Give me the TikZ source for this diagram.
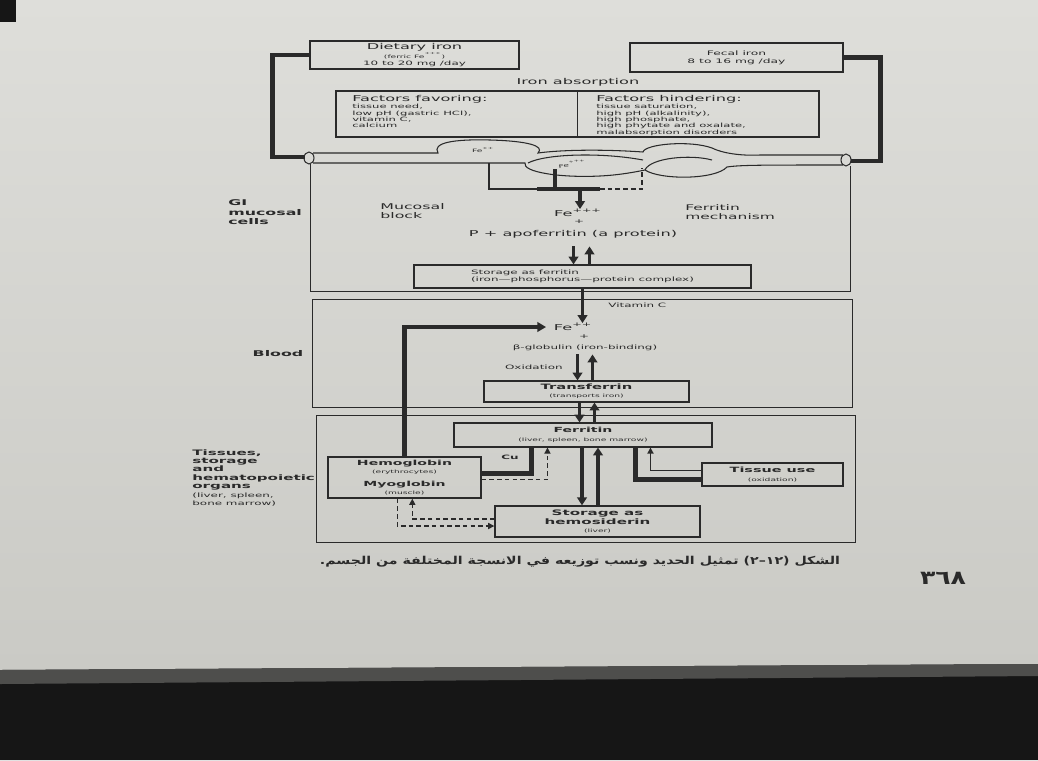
\documentclass[tikz,border=0pt]{standalone}
\usepackage{fontspec}
\setmainfont[FakeStretch=2]{DejaVu Sans}
\newfontfamily\arabicfont[Script=Arabic,FakeStretch=1.3]{DejaVu Sans}
\TeXXeTstate=1
\usetikzlibrary{arrows.meta,calc}

\definecolor{ink}{HTML}{2A2A2A}
\definecolor{pagetop}{HTML}{DEDEDA}
\definecolor{pagebot}{HTML}{CACAC5}
\definecolor{shadow}{HTML}{161616}
\definecolor{pageedge}{HTML}{4E4E4C}

\newcommand\hdsz{\fontsize{4.6}{5}\selectfont}
\newcommand\smsz{\fontsize{3.4}{3.6}\selectfont}
\newcommand\tysz{\fontsize{2.6}{3}\selectfont}

\tikzset{
  boxed/.style={draw=ink, line width=0.6pt, inner sep=0pt, align=center},
  sz/.style 2 args={minimum width=#1*0.2mm, minimum height=#2*0.2mm},
  lbl/.style={inner sep=0pt},
  frame/.style={draw=ink, line width=0.5pt},
  heavy/.style={draw=ink, line width=2.4pt},
  bigarrow/.style={draw=ink, line width=1.9pt, -{Triangle[length=4.5pt,width=5.5pt]}},
  thinarrow/.style={draw=ink, line width=0.9pt, -{Triangle[length=3.5pt,width=3.5pt]}},
  dashline/.style={draw=ink, line width=0.7pt, dash pattern=on 2.6pt off 1.8pt},
}

\begin{document}
\begin{tikzpicture}[x=0.2mm, y=-0.2mm, font=\hdsz, every node/.style={text=ink}]
\useasboundingbox (0,0) rectangle (1038,760);

% photographed page
\fill[top color=pagetop, bottom color=pagebot] (0,0) rectangle (1038,670);
\fill[shadow] (0,670) -- (1038,664) -- (1038,760) -- (0,760) -- cycle;
\fill[pageedge] (0,670) -- (1038,664) -- (1038,676) -- (0,684) -- cycle;
\fill[shadow] (0,0) rectangle (16,22);

% intake and loss
\node[boxed, sz={209}{28}, font={\fontsize{4.6}{4}\selectfont}] (diet) at (414.5,55)
  {Dietary iron\\{\tysz (ferric Fe\textsuperscript{+++})}\\{\smsz 10 to 20 mg /day}};
\node[boxed, sz={213}{29}, font={\fontsize{3.5}{4.5}\selectfont}] (fecal) at (736.5,57.5)
  {Fecal iron\\8 to 16 mg /day};
\node[lbl] (absorb) at (578,82) {Iron absorption};

\node[boxed, sz={483}{46}] (factbox) at (577.5,114) {};
\draw[frame] (factbox.north) -- (factbox.south);
\node[lbl, anchor=north west, align=left, font={\fontsize{3.3}{3.6}\selectfont}] (favor) at (352,95)
  {{\hdsz Factors favoring:}\\[0.6pt]tissue need,\\low pH (gastric HCl),\\vitamin C,\\calcium};
\node[lbl, anchor=north west, align=left, font={\fontsize{3.3}{3.6}\selectfont}] (hinder) at (596,95)
  {{\hdsz Factors hindering:}\\[0.6pt]tissue saturation,\\high pH (alkalinity),\\high phosphate,\\high phytate and oxalate,\\malabsorption disorders};

% intestinal wall
\coordinate (gutL) at (305,157);
\coordinate (gutR) at (851,161);
\draw[ink, line width=0.6pt] (313,153) -- (438,153) .. controls (432,143) and (452,139) .. (490,140)
  .. controls (528,141) and (545,146) .. (538,153) .. controls (560,150) and (600,149) .. (643,152)
  .. controls (645,144) and (690,140) .. (712,148) .. controls (722,153) and (740,156) .. (760,155) -- (843,155);
\draw[ink, line width=0.6pt] (313,163) -- (525,163) .. controls (522,172) and (560,178) .. (600,176)
  .. controls (620,175) and (635,172) .. (645,170) .. controls (660,180) and (715,180) .. (727,167)
  .. controls (740,165) and (760,165) .. (843,165);
\draw[ink, line width=0.6pt] (528,163) .. controls (545,154) and (600,152) .. (643,160);
\draw[ink, line width=0.6pt] (645,170) .. controls (650,158) and (690,154) .. (712,160);
\draw[ink, line width=0.6pt] (309,158) ellipse [x radius=5, y radius=6];
\draw[ink, line width=0.6pt] (846,160) ellipse [x radius=5, y radius=6];
\node[lbl, font=\tysz] (feTwoGut) at (483,150) {Fe\textsuperscript{++}};
\node[lbl, font=\tysz, rotate=8] (feThreeGut) at (572,164) {Fe\textsuperscript{+++}};

\draw[heavy] (diet.west) -- ++(-37,0) |- (gutL);
\draw[heavy] (fecal.east) -- ++(37,0) |- (gutR);

% mucosal cells
\draw[frame] (310,164) |- (850,291) -- (850,166);
\node[lbl, anchor=north west, align=left, font={\bfseries\fontsize{4.5}{5.6}\selectfont}] (gilabel) at (228,199)
  {GI\\mucosal\\cells};
\node[lbl, anchor=west, align=left, font={\fontsize{4.5}{4.8}\selectfont}] (mucblock) at (380,211) {Mucosal\\block};
\node[lbl, anchor=west, align=left, font={\fontsize{4.4}{4.8}\selectfont}] (ferrmech) at (685,212) {Ferritin\\mechanism};
\node[lbl] (fe3) at (578,213) {Fe\textsuperscript{+++}};
\node[lbl, font=\smsz] (plusA) at (579,222) {+};
\node[lbl] (apo) at (573,234) {P + apoferritin (a protein)};
\node[boxed, sz={337}{23}, align=left, font={\fontsize{3.4}{3.6}\selectfont}] (storef) at (582.5,276.5)
  {Storage as ferritin\\(iron---phosphorus---protein complex)};

\coordinate (inA) at (489,163);
\coordinate (inB) at (555,169);
\coordinate (inC) at (642,168);
\coordinate (jA) at (537,189);
\coordinate (jB) at (600,189);
\coordinate (jC) at (580,189);
\draw[ink, line width=0.7pt] (inA) |- (jA);
\draw[heavy] (jA) -- (jB);
\draw[heavy] (inB) -- (inB |- jA);
\draw[dashline] (jB) -| (inC);
\draw[bigarrow] (jC) -- (jC |- fe3.north);

\coordinate (dnA) at ($(storef.north)+(-9,-18)$);
\coordinate (upA) at ($(storef.north)+(7,-18)$);
\draw[bigarrow] (dnA) -- (dnA |- storef.north);
\draw[bigarrow] (upA |- storef.north) -- (upA);

% blood
\draw[frame] (312,299) rectangle (852,407);
\node[lbl, font={\bfseries\fontsize{4.5}{5}\selectfont}] (bloodlbl) at (278,354) {Blood};
\node[lbl] (fe2) at (573,327) {Fe\textsuperscript{++}};
\node[lbl, font=\smsz] (plusB) at (584,337) {+};
\node[lbl, font=\smsz] (globulin) at (585,348) {β-globulin (iron-binding)};
\node[lbl, font=\smsz, anchor=east] (oxid) at (563,367) {Oxidation};
\node[lbl, font=\smsz, anchor=west] (vitc) at (608,305) {Vitamin C};
\node[boxed, sz={205}{21}, font={\bfseries\fontsize{4.2}{4.5}\selectfont}] (transf) at (586.5,391.5)
  {Transferrin\\{\mdseries\tysz (transports iron)}};

\draw[bigarrow] (storef.south) -- (storef.south |- fe2.north);

\coordinate (dnB) at ($(transf.north)+(-9,-26)$);
\coordinate (upB) at ($(transf.north)+(6,-26)$);
\draw[bigarrow] (dnB) -- (dnB |- transf.north);
\draw[bigarrow] (upB |- transf.north) -- (upB);

% tissues
\draw[frame] (316,415) rectangle (855,542);
\node[lbl, anchor=north west, align=left, font={\bfseries\fontsize{4.3}{4.8}\selectfont}] (tisslbl) at (192,449)
  {Tissues,\\storage\\and\\hematopoietic\\organs\\{\mdseries\smsz (liver, spleen,}\\{\mdseries\smsz bone marrow)}};
\node[boxed, sz={258}{24}, font={\bfseries\fontsize{4}{5}\selectfont}] (ferritin) at (583,435)
  {Ferritin\\{\mdseries\tysz (liver, spleen, bone marrow)}};
\node[boxed, line width=0.8pt, sz={153}{41}, font={\bfseries\fontsize{4}{4.4}\selectfont}] (hemo) at (404.5,477.5)
  {Hemoglobin\\{\mdseries\tysz (erythrocytes)}\\[3pt]Myoglobin\\{\mdseries\tysz (muscle)}};
\node[lbl, font={\bfseries\smsz}] (cu) at (510,457) {Cu};
\node[boxed, line width=0.8pt, sz={141}{23}, font={\bfseries\fontsize{4.1}{5}\selectfont}] (tissuse) at (772.5,474.5)
  {Tissue use\\{\mdseries\tysz (oxidation)}};
\node[boxed, line width=0.8pt, sz={205}{31}, font={\bfseries\fontsize{4.3}{4.8}\selectfont}] (hemosid) at (597.5,521.5)
  {Storage as\\hemosiderin\\{\mdseries\tysz (liver)}};

\draw[heavy, -{Triangle[length=5pt,width=5.5pt]}, shorten >=1.5mm] (hemo.north) |- (fe2.west);

\coordinate (dnC) at ($(transf.south)+(-7,0)$);
\coordinate (upC) at ($(transf.south)+(8,0)$);
\draw[bigarrow] (dnC) -- (dnC |- ferritin.north);
\draw[bigarrow] (upC |- ferritin.north) -- (upC);

\coordinate (dnD) at ($(ferritin.south)+(-1,0)$);
\coordinate (upD) at ($(ferritin.south)+(15,0)$);
\draw[bigarrow] (dnD) -- (dnD |- hemosid.north);
\draw[bigarrow] (upD |- hemosid.north) -- (upD);

\coordinate (hcA) at ($(hemo.east)+(0,-4)$);
\coordinate (hcB) at ($(ferritin.south west)+(78,0)$);
\coordinate (hdA) at ($(hemo.east)+(0,2)$);
\coordinate (hdB) at ($(ferritin.south west)+(94,0)$);
\draw[heavy] (hcA) -| (hcB);
\draw[dashline, -{Triangle[length=3.5pt,width=3.5pt]}] (hdA) -| (hdB);

\coordinate (tuA) at ($(ferritin.south west)+(182,0)$);
\coordinate (tuB) at ($(tissuse.west)+(0,5)$);
\coordinate (tuC) at ($(tissuse.west)+(0,-4)$);
\coordinate (tuD) at ($(ferritin.south west)+(197,0)$);
\draw[heavy] (tuA) |- (tuB);
\draw[thinarrow] (tuC) -| (tuD);

\coordinate (sdA) at ($(hemosid.west)+(0,-2.5)$);
\coordinate (sdB) at ($(hemo.south west)+(85,0)$);
\coordinate (sdC) at ($(hemo.south west)+(70,0)$);
\coordinate (sdD) at ($(hemosid.west)+(0,4.5)$);
\draw[dashline, -{Triangle[length=3.5pt,width=3.5pt]}] (sdA) -| (sdB);
\draw[dashline, -{Triangle[length=3.5pt,width=3.5pt]}] (sdC) |- (sdD);

% caption and page number
\node[lbl, font={\arabicfont\bfseries\fontsize{6.2}{7}\selectfont}] (caption) at (580,562)
  {\beginR الشكل (١٢–٢) تمثيل الحديد ونسب توزيعه في الانسجة المختلفة من الجسم.\endR};
\node[lbl, font={\arabicfont\bfseries\fontsize{11}{12}\selectfont}] (pagenum) at (943,578) {٣٦٨};
\end{tikzpicture}
\end{document}
